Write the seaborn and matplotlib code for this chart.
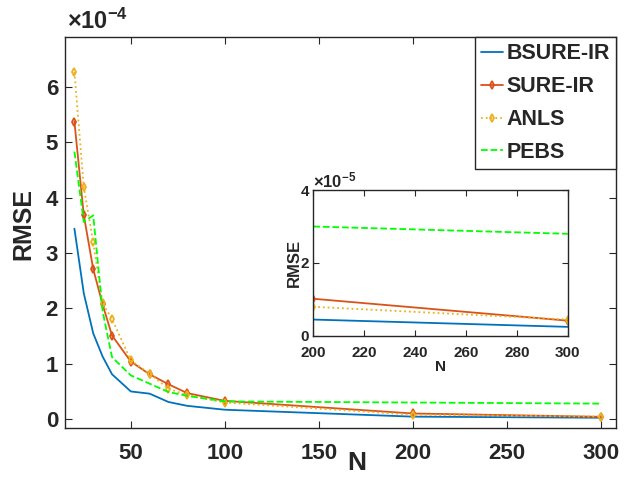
import numpy as np
import pandas as pd
import matplotlib
matplotlib.use('Agg')
import matplotlib.pyplot as plt
import seaborn as sns

# Data (RMSE in units of 1e-4)
N = [20, 25, 30, 35, 40, 50, 60, 70, 80, 100, 200, 300]
bsure_ir = [3.44, 2.27, 1.55, 1.13, 0.81, 0.50, 0.46, 0.31, 0.24, 0.17, 0.045, 0.025]
sure_ir = [5.37, 3.68, 2.71, 2.07, 1.51, 1.04, 0.81, 0.63, 0.47, 0.33, 0.102, 0.042]
anls = [6.27, 4.19, 3.19, 2.09, 1.81, 1.06, 0.82, 0.55, 0.43, 0.30, 0.080, 0.045]
pebs = [4.83, 3.56, 3.68, 1.95, 1.12, 0.79, 0.64, 0.49, 0.42, 0.32, 0.300, 0.280]

labels = ['BSURE-IR', 'SURE-IR', 'ANLS', 'PEBS']
main_xticks = [50, 100, 150, 200, 250, 300]
main_yticks = [0, 1, 2, 3, 4, 5, 6]
inset_xticks = [200, 220, 240, 260, 280, 300]
inset_yticks = [0, 2, 4]

sns.set_style('ticks')
plt.rcParams['font.family'] = ['Liberation Sans', 'DejaVu Sans']
plt.rcParams['font.weight'] = 'bold'
plt.rcParams['mathtext.fontset'] = 'custom'
plt.rcParams['mathtext.rm'] = 'Liberation Sans'
plt.rcParams['mathtext.bf'] = 'Liberation Sans:bold'

dark = '#262626'
series = [
    (bsure_ir, dict(color='#0072BD', linestyle='-')),
    (sure_ir, dict(color='#D95319', linestyle='-', marker='d', markersize=4,
                   markerfacecolor='none', markeredgecolor='#D95319',
                   markeredgewidth=1.3)),
    (anls, dict(color='#EDB120', linestyle=':', marker='d', markersize=4,
                markerfacecolor='none', markeredgecolor='#EDB120',
                markeredgewidth=1.3)),
    (pebs, dict(color='#00FF00', linestyle='--', dashes=(5, 3))),
]

fig = plt.figure(figsize=(6.43, 4.78), dpi=100)
ax = fig.add_axes([0.1011, 0.1046, 0.8569, 0.818])

for (vals, kw), lab in zip(series, labels):
    sns.lineplot(x=N, y=vals, ax=ax, label=lab, linewidth=1.3, **kw)

ax.set_xlim(15, 308)
ax.set_ylim(-0.16, 6.9)
ax.set_xticks(main_xticks)
ax.set_yticks(main_yticks)
ax.tick_params(direction='in', top=True, right=True, length=5, width=0.8,
               color=dark, labelsize=16, labelcolor=dark)
ax.tick_params(axis='x', pad=11)
ax.tick_params(axis='y', pad=5)
for sp in ax.spines.values():
    sp.set_visible(True)
    sp.set_color(dark)
    sp.set_linewidth(1.0)

ax.set_xlabel('N', fontsize=19, fontweight='bold', color=dark)
ax.xaxis.set_label_coords((357 - 65) / 551, -(451 - 428) / 391)
ax.set_ylabel('RMSE', fontsize=18, fontweight='bold', color=dark)
ax.yaxis.set_label_coords(-(65 - 35) / 551, (428 - 224) / 391)
ax.text(0.003, 1.008, r'$\times\mathbf{10^{-4}}$', transform=ax.transAxes,
        fontsize=17, color=dark, ha='left', va='bottom')

leg = ax.legend(loc='upper right', bbox_to_anchor=(1, 1), borderaxespad=0,
                fontsize=15.5, handlelength=1.0, handletextpad=0.15,
                labelspacing=0.55, borderpad=0.3, fancybox=False,
                framealpha=1, edgecolor=dark)
leg.get_frame().set_linewidth(1.0)

# inset: last two points, units of 1e-5
ins = fig.add_axes([0.4873, 0.2971, 0.3956, 0.3054])
for (vals, kw), lab in zip(series, labels):
    sns.lineplot(x=N[-2:], y=np.array(vals[-2:]) * 10, ax=ins, linewidth=1.3,
                 legend=False, **kw)
ins.set_xlim(200, 300)
ins.set_ylim(0, 4)
ins.set_xticks(inset_xticks)
ins.set_yticks(inset_yticks)
ins.tick_params(direction='in', top=True, right=True, length=4, width=0.8,
                color=dark, labelsize=11, labelcolor=dark)
ins.tick_params(axis='x', pad=7)
ins.tick_params(axis='y', pad=3)
for sp in ins.spines.values():
    sp.set_visible(True)
    sp.set_color(dark)
    sp.set_linewidth(1.0)
ins.set_xlabel('N', fontsize=11, fontweight='bold', color=dark, labelpad=0)
ins.set_ylabel('RMSE', fontsize=12, fontweight='bold', color=dark, labelpad=-1)
ins.text(0.0, 1.0, r'$\times\mathbf{10^{-5}}$', transform=ins.transAxes,
         fontsize=12, color=dark, ha='left', va='bottom')

fig.savefig('out.png', dpi=100)
